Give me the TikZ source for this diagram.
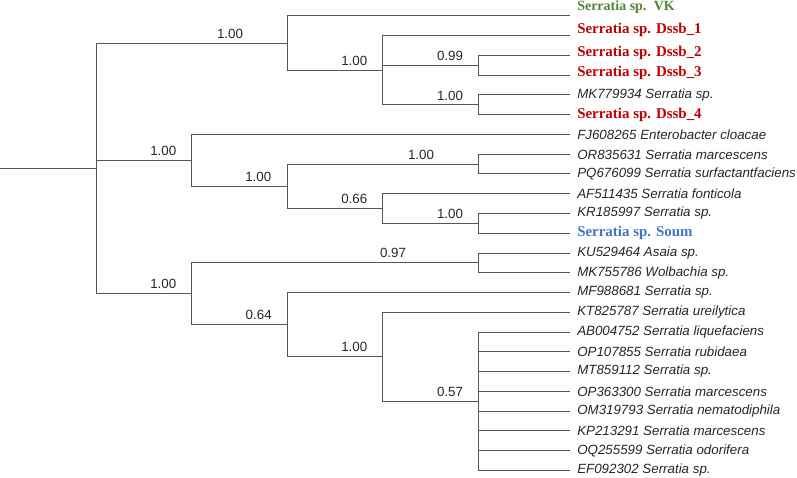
\documentclass[tikz,border=0pt]{standalone}
\usepackage{fontspec}
\setmainfont{Liberation Serif}
\setsansfont{Liberation Sans}
\usetikzlibrary{positioning}
\definecolor{vkgreen}{HTML}{548235}
\definecolor{dssbred}{HTML}{C00000}
\definecolor{soumblue}{HTML}{4472C4}
\definecolor{treegray}{HTML}{555555}

\begin{document}
\begin{tikzpicture}[x=0.75pt, y=-0.75pt,
    br/.style={draw=treegray, line width=0.75pt},
    leaf/.style={anchor=west, inner xsep=5.25pt, inner ysep=0pt, font=\sffamily\itshape\fontsize{10pt}{12pt}\selectfont, text=black!85},
    own/.style={anchor=base west, inner sep=0pt, font=\bfseries\fontsize{11.2pt}{13pt}\selectfont},
    ownvk/.style={anchor=base west, inner sep=0pt, font=\bfseries\fontsize{10.5pt}{13pt}\selectfont, text=vkgreen},
    boot/.style={font=\sffamily\fontsize{10pt}{12pt}\selectfont, text=black!85, inner sep=0pt}]
  \useasboundingbox (0,0) rectangle (797,478);
  % internal nodes
  \coordinate (base) at (0,168.5);
  \coordinate (root) at (96.7,168.5);
  \coordinate (nA) at (287.3,43.2);
  \coordinate (nB) at (382.7,70.3);
  \coordinate (nC) at (478.7,65.4);
  \coordinate (nD) at (478.7,104.9);
  \coordinate (nE) at (191.7,160.4);
  \coordinate (nF) at (287.3,186.4);
  \coordinate (nG) at (478.7,164.1);
  \coordinate (nH) at (382.7,208.6);
  \coordinate (nI) at (478.7,223.4);
  \coordinate (nK) at (191.7,293.8);
  \coordinate (nJ) at (478.7,262.9);
  \coordinate (nL) at (287.3,324.6);
  \coordinate (nM) at (382.7,356.7);
  \coordinate (nN) at (478.7,401.1);
  % own isolates
  \coordinate (tvk) at (570,16);
  \coordinate (td1) at (570,35.75);
  \coordinate (td2) at (570,55.5);
  \coordinate (td3) at (570,75.25);
  \coordinate (td4) at (570,114.75);
  \coordinate (tsoum) at (570,233.25);
  \node[own, text=dssbred] (dssb1) at (577,33.3) {Serratia sp. Dssb\_1};
  \node[ownvk] (vk) at (577,11) {Serratia sp.\hspace{2pt} VK};
  \node[own, text=dssbred] (dssb2) at (577,56.5) {Serratia sp. Dssb\_2};
  \node[own, text=dssbred] (dssb3) at (577,77) {Serratia sp. Dssb\_3};
  \node[own, text=dssbred] (dssb4) at (577,119) {Serratia sp. Dssb\_4};
  \node[own, text=soumblue] (soum) at (577,236.5) {Serratia sp. Soum};
  % reference sequences
  \node[leaf] (mk779934) at (570,95) {MK779934 Serratia sp.};
  \node[leaf] (fj608265) at (570,134.5) {FJ608265 Enterobacter cloacae};
  \node[leaf] (or835631) at (570,154.25) {OR835631 Serratia marcescens};
  \node[leaf] (pq676099) at (570,174) {PQ676099 Serratia surfactantfaciens};
  \node[leaf] (af511435) at (570,193.75) {AF511435 Serratia fonticola};
  \node[leaf] (kr185997) at (570,213.5) {KR185997 Serratia sp.};
  \node[leaf] (ku529464) at (570,253) {KU529464 Asaia sp.};
  \node[leaf] (mk755786) at (570,272.75) {MK755786 Wolbachia sp.};
  \node[leaf] (mf988681) at (570,292.5) {MF988681 Serratia sp.};
  \node[leaf] (kt825787) at (570,312.25) {KT825787 Serratia ureilytica};
  \node[leaf] (ab004752) at (570,332) {AB004752 Serratia liquefaciens};
  \node[leaf] (op107855) at (570,351.75) {OP107855 Serratia rubidaea};
  \node[leaf] (mt859112) at (570,371.5) {MT859112 Serratia sp.};
  \node[leaf] (op363300) at (570,391.25) {OP363300 Serratia marcescens};
  \node[leaf] (om319793) at (570,411) {OM319793 Serratia nematodiphila};
  \node[leaf] (kp213291) at (570,430.75) {KP213291 Serratia marcescens};
  \node[leaf] (oq255599) at (570,450.5) {OQ255599 Serratia odorifera};
  \node[leaf] (ef092302) at (570,470.25) {EF092302 Serratia sp.};
  % branches
  \draw[br] (base) -- (root);
  \draw[br] (root) |- (nA); \draw[br] (root) |- (nE); \draw[br] (root) |- (nK);
  \draw[br] (nA) |- (tvk); \draw[br] (nA) |- (nB);
  \draw[br] (nB) |- (td1); \draw[br] (nB) |- (nC); \draw[br] (nB) |- (nD);
  \draw[br] (nC) |- (td2); \draw[br] (nC) |- (td3);
  \draw[br] (nD) |- (mk779934); \draw[br] (nD) |- (td4);
  \draw[br] (nE) |- (fj608265); \draw[br] (nE) |- (nF);
  \draw[br] (nF) |- (nG); \draw[br] (nF) |- (nH);
  \draw[br] (nG) |- (or835631); \draw[br] (nG) |- (pq676099);
  \draw[br] (nH) |- (af511435); \draw[br] (nH) |- (nI);
  \draw[br] (nI) |- (kr185997); \draw[br] (nI) |- (tsoum);
  \draw[br] (nK) |- (nJ); \draw[br] (nK) |- (nL);
  \draw[br] (nJ) |- (ku529464); \draw[br] (nJ) |- (mk755786);
  \draw[br] (nL) |- (mf988681); \draw[br] (nL) |- (nM);
  \draw[br] (nM) |- (kt825787); \draw[br] (nM) |- (nN);
  \draw[br] (nN) |- (ab004752); \draw[br] (nN) |- (op107855); \draw[br] (nN) |- (mt859112);
  \draw[br] (nN) |- (op363300); \draw[br] (nN) |- (om319793); \draw[br] (nN) |- (kp213291);
  \draw[br] (nN) |- (oq255599); \draw[br] (nN) |- (ef092302);
  % support values
  \node[boot] (bA) at (230,33.5) {1.00};
  \node[boot] (bB) at (354.3,61) {1.00};
  \node[boot] (bC) at (450,56) {0.99};
  \node[boot] (bD) at (450,96) {1.00};
  \node[boot] (bE) at (163.3,151) {1.00};
  \node[boot] (bF) at (258.3,177) {1.00};
  \node[boot] (bG) at (421,154.5) {1.00};
  \node[boot] (bH) at (354.3,199) {0.66};
  \node[boot] (bI) at (450,214) {1.00};
  \node[boot] (bJ) at (393,253) {0.97};
  \node[boot] (bK) at (163.3,284) {1.00};
  \node[boot] (bL) at (258.7,315) {0.64};
  \node[boot] (bM) at (354.3,347) {1.00};
  \node[boot] (bN) at (450,392) {0.57};
\end{tikzpicture}
\end{document}
